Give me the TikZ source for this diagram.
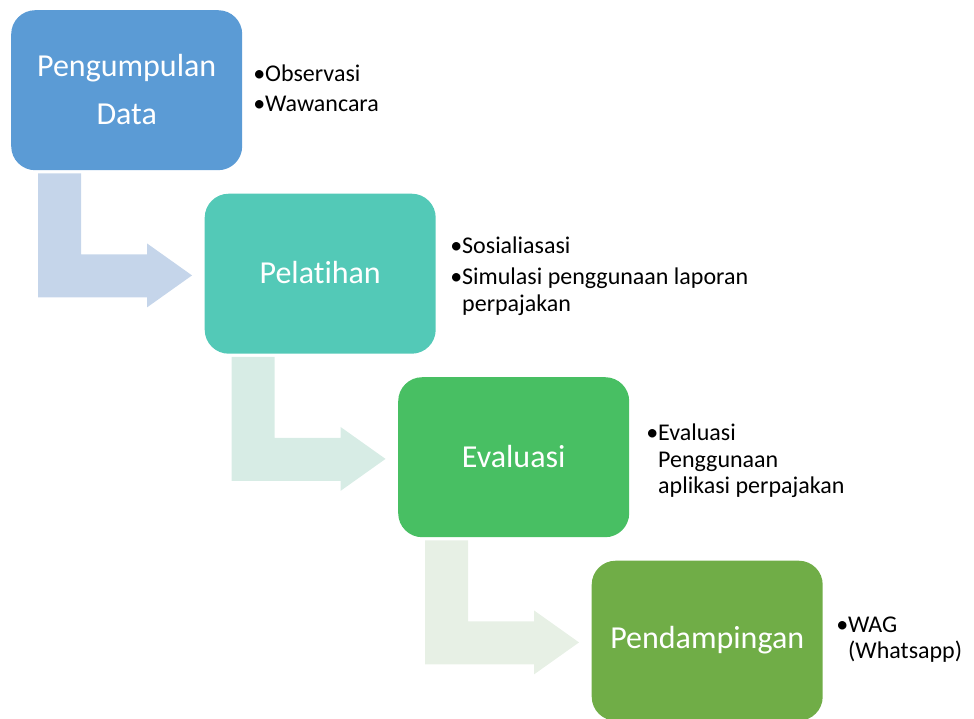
\documentclass[tikz,border=0pt]{standalone}
\usepackage{fontspec}
\setmainfont{Carlito}[Ligatures=NoCommon]
\usetikzlibrary{calc}
\definecolor{cA}{HTML}{5B9BD5}
\definecolor{cB}{HTML}{53C9B7}
\definecolor{cC}{HTML}{48BF63}
\definecolor{cD}{HTML}{70AD47}
\definecolor{aA}{HTML}{C5D5EA}
\definecolor{aB}{HTML}{D7ECE5}
\definecolor{aC}{HTML}{E7F0E5}
\newcommand{\bentarr}[2]{%
  \begin{scope}[shift={(#1.south west)}]
    \fill[#2] (27,3) -- (70,3) -- (70,84) -- (136,84) -- (136,73) -- (181,105)
      -- (136,137) -- (136,127) -- (27,127) -- cycle;
  \end{scope}}
\begin{document}
\begin{tikzpicture}[x=1pt,y=-1pt,
  stage/.style={rounded corners=24pt,minimum width=231pt,minimum height=160pt,
    inner sep=0pt,anchor=north west},
  stagetext/.style={text=white,font=\fontsize{32}{48}\selectfont,anchor=base,inner sep=0pt},
  itemtext/.style={text=black,font=\fontsize{24}{27}\selectfont,anchor=base west,inner sep=0pt}]
\useasboundingbox (0,0) rectangle (974,718);
% boxes
\node[stage,fill=cA] (b1) at (11,10) {};
\node[stage,fill=cB] (b2) at (204.5,193.5) {};
\node[stage,fill=cC] (b3) at (398,377) {};
\node[stage,fill=cD] (b4) at (591.5,560.5) {};
% bent arrows
\bentarr{b1}{aA}
\bentarr{b2}{aB}
\bentarr{b3}{aC}
% box labels
\node[stagetext] (t1a) at ($(b1.center)+(0,-14)$) {Pengumpulan};
\node[stagetext] (t1b) at ($(b1.center)+(0,34)$) {Data};
\node[stagetext] (t2) at ($(b2.center)+(0,10)$) {Pelatihan};
\node[stagetext] (t3) at ($(b3.center)+(0,10)$) {Evaluasi};
\node[stagetext] (t4) at ($(b4.center)+(0,8)$) {Pendampingan};
% bullet lists
\node[itemtext] (l1a) at (265,81) {\llap{•}Observasi};
\node[itemtext] (l1b) at (265,111) {\llap{•}Wawancara};
\node[itemtext] (l2a) at (462,253) {\llap{•}Sosialiasasi};
\node[itemtext] (l2b) at (462,284) {\llap{•}Simulasi penggunaan laporan};
\node[itemtext] (l2c) at (462,311) {perpajakan};
\node[itemtext] (l3a) at (658,440) {\llap{•}Evaluasi};
\node[itemtext] (l3b) at (658,467) {Penggunaan};
\node[itemtext] (l3c) at (658,493) {aplikasi perpajakan};
\node[itemtext] (l4a) at (848,632) {\llap{•}WAG};
\node[itemtext] (l4b) at (848,658) {(Whatsapp)};
\end{tikzpicture}
\end{document}
